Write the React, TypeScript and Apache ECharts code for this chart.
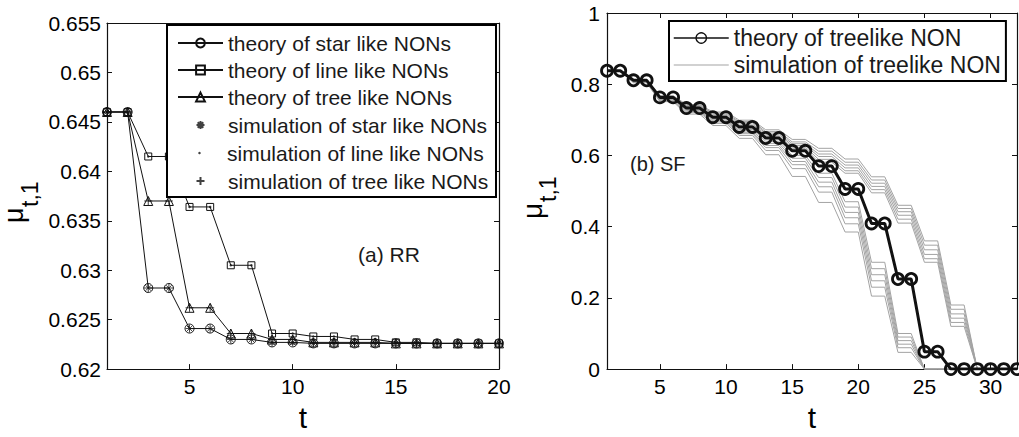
import React, { useEffect, useRef } from "react";
import * as echarts from "echarts";

// ---------- (a) RR ----------
const tRR = [1, 2, 3, 4, 5, 6, 7, 8, 9, 10, 11, 12, 13, 14, 15, 16, 17, 18, 19, 20];
const theoryStar = [0.646, 0.646, 0.6282, 0.6282, 0.6241, 0.6241, 0.623, 0.623, 0.6227, 0.6227, 0.6226, 0.6226, 0.6226, 0.6226, 0.6226, 0.6226, 0.6226, 0.6226, 0.6226, 0.6226];
const theoryLine = [0.646, 0.646, 0.6415, 0.6415, 0.6364, 0.6364, 0.6305, 0.6305, 0.6236, 0.6236, 0.6233, 0.6233, 0.623, 0.623, 0.6227, 0.6227, 0.6226, 0.6226, 0.6226, 0.6226];
const theoryTree = [0.646, 0.646, 0.637, 0.637, 0.6262, 0.6262, 0.6236, 0.6236, 0.623, 0.623, 0.6227, 0.6227, 0.6227, 0.6227, 0.6226, 0.6226, 0.6226, 0.6226, 0.6226, 0.6226];
const simStar = [0.646, 0.646, 0.6282, 0.6282, 0.6241, 0.6241, 0.623, 0.623, 0.6227, 0.6227, 0.6226, 0.6226, 0.6226, 0.6226, 0.6226, 0.6226, 0.6226, 0.6226, 0.6226, 0.6226];
const simLine = [0.646, 0.646, 0.6415, 0.6415, 0.6364, 0.6364, 0.6305, 0.6305, 0.6236, 0.6236, 0.6233, 0.6233, 0.623, 0.623, 0.6227, 0.6227, 0.6226, 0.6226, 0.6226, 0.6226];
const simTree = [0.646, 0.646, 0.637, 0.637, 0.6262, 0.6262, 0.6236, 0.6236, 0.623, 0.623, 0.6227, 0.6227, 0.6227, 0.6227, 0.6226, 0.6226, 0.6226, 0.6226, 0.6226, 0.6226];
const xTicksRR = [5, 10, 15, 20];
const yTicksRR = [0.62, 0.625, 0.63, 0.635, 0.64, 0.645, 0.65, 0.655];
const yLabelsRR = ["0.62", "0.625", "0.63", "0.635", "0.64", "0.645", "0.65", "0.655"];

// ---------- (b) SF ----------
const tSF = [1, 2, 3, 4, 5, 6, 7, 8, 9, 10, 11, 12, 13, 14, 15, 16, 17, 18, 19, 20, 21, 22, 23, 24, 25, 26, 27, 28, 29, 30, 31, 32];
const theorySF = [0.838, 0.838, 0.811, 0.811, 0.763, 0.763, 0.733, 0.733, 0.7075, 0.7075, 0.68, 0.68, 0.649, 0.649, 0.613, 0.613, 0.57, 0.57, 0.506, 0.506, 0.409, 0.409, 0.253, 0.253, 0.049, 0.049, 0, 0, 0, 0, 0, 0];
const simSF1 = [0.838, 0.838, 0.809, 0.809, 0.761, 0.761, 0.73, 0.73, 0.703, 0.703, 0.673, 0.673, 0.64, 0.64, 0.6, 0.6, 0.55, 0.55, 0.47, 0.47, 0.3, 0.3, 0.1, 0.1, 0, 0, 0, 0, 0, 0, 0, 0];
const simSF2 = [0.838, 0.838, 0.808, 0.808, 0.759, 0.759, 0.728, 0.728, 0.7, 0.7, 0.669, 0.669, 0.634, 0.634, 0.592, 0.592, 0.538, 0.538, 0.455, 0.455, 0.282, 0.282, 0.09, 0.09, 0, 0, 0, 0, 0, 0, 0, 0];
const simSF3 = [0.838, 0.838, 0.807, 0.807, 0.757, 0.757, 0.726, 0.726, 0.697, 0.697, 0.665, 0.665, 0.628, 0.628, 0.583, 0.583, 0.525, 0.525, 0.44, 0.44, 0.265, 0.265, 0.08, 0.08, 0, 0, 0, 0, 0, 0, 0, 0];
const simSF4 = [0.838, 0.838, 0.806, 0.806, 0.755, 0.755, 0.723, 0.723, 0.694, 0.694, 0.661, 0.661, 0.622, 0.622, 0.574, 0.574, 0.512, 0.512, 0.425, 0.425, 0.248, 0.248, 0.07, 0.07, 0, 0, 0, 0, 0, 0, 0, 0];
const simSF5 = [0.838, 0.838, 0.805, 0.805, 0.753, 0.753, 0.72, 0.72, 0.69, 0.69, 0.656, 0.656, 0.614, 0.614, 0.563, 0.563, 0.497, 0.497, 0.408, 0.408, 0.23, 0.23, 0.06, 0.06, 0, 0, 0, 0, 0, 0, 0, 0];
const simSF6 = [0.838, 0.838, 0.804, 0.804, 0.751, 0.751, 0.716, 0.716, 0.684, 0.684, 0.648, 0.648, 0.602, 0.602, 0.541, 0.541, 0.468, 0.468, 0.385, 0.385, 0.205, 0.205, 0.047, 0.047, 0, 0, 0, 0, 0, 0, 0, 0];
const simSF7 = [0.838, 0.838, 0.813, 0.813, 0.768, 0.768, 0.743, 0.743, 0.722, 0.722, 0.699, 0.699, 0.672, 0.672, 0.645, 0.645, 0.62, 0.62, 0.59, 0.59, 0.54, 0.54, 0.46, 0.46, 0.36, 0.36, 0.18, 0.18, 0, 0, 0, 0];
const simSF8 = [0.838, 0.838, 0.812, 0.812, 0.767, 0.767, 0.741, 0.741, 0.719, 0.719, 0.695, 0.695, 0.667, 0.667, 0.638, 0.638, 0.612, 0.612, 0.581, 0.581, 0.531, 0.531, 0.451, 0.451, 0.348, 0.348, 0.168, 0.168, 0, 0, 0, 0];
const simSF9 = [0.838, 0.838, 0.812, 0.812, 0.766, 0.766, 0.74, 0.74, 0.716, 0.716, 0.692, 0.692, 0.663, 0.663, 0.633, 0.633, 0.604, 0.604, 0.573, 0.573, 0.522, 0.522, 0.442, 0.442, 0.335, 0.335, 0.155, 0.155, 0, 0, 0, 0];
const simSF10 = [0.838, 0.838, 0.811, 0.811, 0.765, 0.765, 0.738, 0.738, 0.713, 0.713, 0.688, 0.688, 0.659, 0.659, 0.628, 0.628, 0.597, 0.597, 0.565, 0.565, 0.513, 0.513, 0.432, 0.432, 0.322, 0.322, 0.143, 0.143, 0, 0, 0, 0];
const simSF11 = [0.838, 0.838, 0.811, 0.811, 0.764, 0.764, 0.736, 0.736, 0.71, 0.71, 0.684, 0.684, 0.655, 0.655, 0.623, 0.623, 0.589, 0.589, 0.557, 0.557, 0.504, 0.504, 0.421, 0.421, 0.31, 0.31, 0.131, 0.131, 0, 0, 0, 0];
const simSF12 = [0.838, 0.838, 0.81, 0.81, 0.763, 0.763, 0.735, 0.735, 0.708, 0.708, 0.681, 0.681, 0.651, 0.651, 0.619, 0.619, 0.581, 0.581, 0.55, 0.55, 0.495, 0.495, 0.41, 0.41, 0.3, 0.3, 0.12, 0.12, 0, 0, 0, 0];
const simSFRuns = [simSF1, simSF2, simSF3, simSF4, simSF5, simSF6, simSF7, simSF8, simSF9, simSF10, simSF11, simSF12];
const xTicksSF = [5, 10, 15, 20, 25, 30];
const yTicksSF = [0, 0.2, 0.4, 0.6, 0.8, 1];
const yLabelsSF = ["0", "0.2", "0.4", "0.6", "0.8", "1"];

const FONT = "'Liberation Sans', Arial, Helvetica, sans-serif";
const INK = "#111";
const SIM_GRAY = "#a3a3a3";

const pairs = (xs: number[], ys: number[]) => xs.map((x, i) => [x, ys[i]]);
const labelFor = (ticks: number[], labels: string[]) => (v: number) => {
  const i = ticks.findIndex((t) => Math.abs(t - v) < 1e-9);
  return i >= 0 ? labels[i] : "";
};

const STAR = "path://M5,0L5,10M0,5L10,5M1.5,1.5L8.5,8.5M8.5,1.5L1.5,8.5";
const PLUS = "path://M5,0L5,10M0,5L10,5";
const LEG_W = 45;
const LEG_LEFT = 177;

function buildOption(): any {
  const axisLine = { show: true, onZero: false, lineStyle: { color: INK, width: 1.2 } };
  const tick = (vals: number[]) => ({ show: true, inside: true, length: 5, customValues: vals, lineStyle: { color: INK, width: 1 } });
  const lbl = { fontSize: 21, fontFamily: FONT, color: "#000" };
  const legendText = { fontSize: 21, fontFamily: FONT, color: "#1a1a1a", lineHeight: 24 };

  const theoryStyle = (name: string, symbol: string, size: number, data: number[]) => ({
    name,
    type: "line",
    xAxisIndex: 0,
    yAxisIndex: 0,
    data: pairs(tRR, data),
    symbol,
    symbolSize: size,
    showAllSymbol: true,
    itemStyle: { color: "transparent", borderColor: INK, borderWidth: 1 },
    lineStyle: { color: INK, width: 1 },
    z: 2,
  });
  const simStyle = (name: string, symbol: string, size: number, data: number[], filled: boolean) => ({
    name,
    type: "scatter",
    xAxisIndex: 0,
    yAxisIndex: 0,
    data: pairs(tRR, data),
    symbol,
    symbolSize: size,
    itemStyle: filled ? { color: INK } : { color: "transparent", borderColor: INK, borderWidth: 1 },
    z: 3,
  });
  // single-row legend for a marker-only entry; offset so the marker sits centred in the 45px slot
  const markerLegend = (name: string, h: number, top: number) => ({
    data: [name],
    orient: "vertical",
    left: LEG_LEFT + (LEG_W - h) / 2,
    top,
    padding: 0,
    itemWidth: LEG_W,
    itemHeight: h,
    textStyle: legendText,
    selectedMode: false,
    z: 10,
  });

  return {
    animation: false,
    backgroundColor: "#fff",
    grid: [
      { left: 107, top: 23, width: 392, height: 354 },
      { left: 607, top: 13, width: 410, height: 364 },
    ],
    xAxis: [
      {
        gridIndex: 0, type: "value", min: 1, max: 20, position: "bottom",
        axisLine, axisTick: tick(xTicksRR),
        axisLabel: { ...lbl, margin: 7, customValues: xTicksRR },
        splitLine: { show: false },
        name: "t", nameLocation: "middle", nameGap: 27,
        nameTextStyle: { fontSize: 30, fontFamily: FONT, color: "#000" },
      },
      {
        gridIndex: 0, type: "value", min: 1, max: 20, position: "top",
        axisLine, axisTick: tick(xTicksRR), axisLabel: { show: false }, splitLine: { show: false },
      },
      {
        gridIndex: 1, type: "value", min: 1, max: 32, position: "bottom",
        axisLine, axisTick: tick(xTicksSF),
        axisLabel: { ...lbl, margin: 7, customValues: xTicksSF },
        splitLine: { show: false },
        name: "t", nameLocation: "middle", nameGap: 27,
        nameTextStyle: { fontSize: 30, fontFamily: FONT, color: "#000" },
      },
      {
        gridIndex: 1, type: "value", min: 1, max: 32, position: "top",
        axisLine, axisTick: tick(xTicksSF), axisLabel: { show: false }, splitLine: { show: false },
      },
    ],
    yAxis: [
      {
        gridIndex: 0, type: "value", min: 0.62, max: 0.655, position: "left",
        axisLine, axisTick: tick(yTicksRR),
        axisLabel: { ...lbl, margin: 6, customValues: yTicksRR, formatter: labelFor(yTicksRR, yLabelsRR) },
        splitLine: { show: false },
      },
      {
        gridIndex: 0, type: "value", min: 0.62, max: 0.655, position: "right",
        axisLine, axisTick: tick(yTicksRR), axisLabel: { show: false }, splitLine: { show: false },
      },
      {
        gridIndex: 1, type: "value", min: 0, max: 1, position: "left",
        axisLine, axisTick: tick(yTicksSF),
        axisLabel: { ...lbl, margin: 7, customValues: yTicksSF, formatter: labelFor(yTicksSF, yLabelsSF) },
        splitLine: { show: false },
      },
      {
        gridIndex: 1, type: "value", min: 0, max: 1, position: "right",
        axisLine, axisTick: tick(yTicksSF), axisLabel: { show: false }, splitLine: { show: false },
      },
    ],
    legend: [
      {
        data: ["theory of star like NONs", "theory of line like NONs", "theory of tree like NONs"],
        orient: "vertical", left: LEG_LEFT, top: 31, padding: 0, itemGap: 3,
        itemWidth: LEG_W, itemHeight: 11, textStyle: legendText, selectedMode: false, z: 10,
      },
      markerLegend("simulation of star like NONs", 8, 113),
      markerLegend("simulation of line like NONs", 2.5, 141),
      markerLegend("simulation of tree like NONs", 8, 169),
      {
        data: [
          { name: "theory of treelike NON", lineStyle: { width: 1.5 }, itemStyle: { borderWidth: 1.3 } },
          { name: "simulation of treelike NON", icon: "path://M0,0L55,0L55,1.2L0,1.2Z", itemStyle: { color: SIM_GRAY, borderWidth: 0 } },
        ],
        orient: "vertical", left: 669, top: 21, padding: [4, 5, 3, 4], itemGap: 1,
        itemWidth: 55, itemHeight: 13,
        textStyle: { fontSize: 23, fontFamily: FONT, color: "#1a1a1a", lineHeight: 26 },
        backgroundColor: "#fff", borderColor: "#000", borderWidth: 2,
        selectedMode: false, z: 10,
      },
    ],
    graphic: [
      {
        type: "rect", z: 5,
        shape: { x: 167, y: 25, width: 329, height: 172 },
        style: { fill: "#fff", stroke: "#000", lineWidth: 2 },
      },
      {
        type: "text", x: 358, y: 254, z: 6,
        style: { text: "(a) RR", fontSize: 21, fontFamily: FONT, fill: "#1a1a1a", textAlign: "left", textVerticalAlign: "middle" },
      },
      {
        type: "text", x: 630, y: 164, z: 6,
        style: { text: "(b) SF", fontSize: 20, fontFamily: FONT, fill: "#1a1a1a", textAlign: "left", textVerticalAlign: "middle" },
      },
      {
        type: "text", x: 14, y: 223, rotation: Math.PI / 2, z: 6,
        style: { text: "μ", fontSize: 27, fontFamily: FONT, fill: "#000", textAlign: "left", textVerticalAlign: "middle" },
      },
      {
        type: "text", x: 30, y: 207, rotation: Math.PI / 2, z: 6,
        style: { text: "t,1", fontSize: 23, fontFamily: FONT, fill: "#000", textAlign: "left", textVerticalAlign: "middle" },
      },
      {
        type: "text", x: 532, y: 219, rotation: Math.PI / 2, z: 6,
        style: { text: "μ", fontSize: 28, fontFamily: FONT, fill: "#000", textAlign: "left", textVerticalAlign: "middle" },
      },
      {
        type: "text", x: 548, y: 202, rotation: Math.PI / 2, z: 6,
        style: { text: "t,1", fontSize: 23, fontFamily: FONT, fill: "#000", textAlign: "left", textVerticalAlign: "middle" },
      },
    ],
    series: [
      theoryStyle("theory of star like NONs", "circle", 9, theoryStar),
      theoryStyle("theory of line like NONs", "rect", 7, theoryLine),
      theoryStyle("theory of tree like NONs", "triangle", 9, theoryTree),
      simStyle("simulation of star like NONs", STAR, 8, simStar, false),
      simStyle("simulation of line like NONs", "circle", 2.5, simLine, true),
      simStyle("simulation of tree like NONs", PLUS, 8, simTree, false),
      ...simSFRuns.map((run) => ({
        name: "simulation of treelike NON",
        type: "line",
        xAxisIndex: 2,
        yAxisIndex: 2,
        data: pairs(tSF, run),
        symbol: "none",
        showSymbol: false,
        lineStyle: { color: SIM_GRAY, width: 1 },
        itemStyle: { color: SIM_GRAY },
        z: 2,
      })),
      {
        name: "theory of treelike NON",
        type: "line",
        xAxisIndex: 2,
        yAxisIndex: 2,
        data: pairs(tSF, theorySF),
        symbol: "circle",
        symbolSize: 11,
        showAllSymbol: true,
        itemStyle: { color: "transparent", borderColor: INK, borderWidth: 2.8 },
        lineStyle: { color: INK, width: 3 },
        z: 3,
      },
    ],
  };
}

export default function App() {
  const ref = useRef<HTMLDivElement>(null);
  useEffect(() => {
    document.body.style.margin = "0";
    if (!ref.current) return;
    const chart = echarts.init(ref.current, undefined, { renderer: "svg" });
    chart.setOption(buildOption());
    return () => chart.dispose();
  }, []);
  return <div ref={ref} style={{ width: 1019, height: 437 }} />;
}
